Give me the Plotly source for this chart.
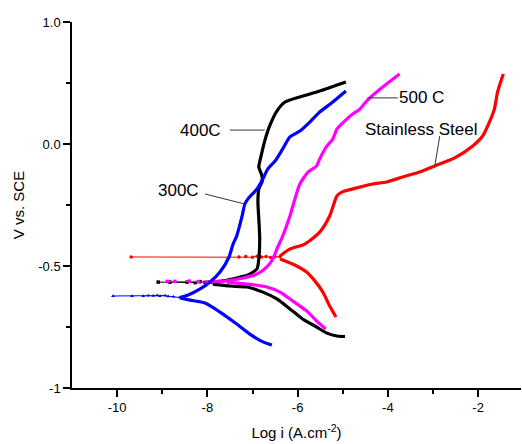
import plotly.graph_objects as go

# Potentiodynamic polarization curves: log current density vs potential (V vs. SCE)

# Stainless steel
ss_cath_x = [-6.39, -6.11, -5.80, -5.62, -5.44, -5.29, -5.15]
ss_cath_y = [-0.471, -0.492, -0.525, -0.561, -0.607, -0.664, -0.709]
ss_ecorr_x = [-9.69, -7.30, -7.15, -7.00, -6.90, -6.80, -6.70, -6.60, -6.50, -6.39]
ss_ecorr_y = [-0.463, -0.463, -0.461, -0.464, -0.460, -0.463, -0.461, -0.465, -0.462, -0.462]
ss_anod_x = [-6.39, -6.17, -5.84, -5.51, -5.29, -5.13, -5.02, -4.69, -4.34, -4.03, -3.67,
             -3.30, -2.96, -2.52, -2.12, -1.90, -1.75, -1.64, -1.57, -1.48, -1.44]
ss_anod_y = [-0.459, -0.430, -0.410, -0.361, -0.295, -0.213, -0.197, -0.180, -0.164, -0.156, -0.135,
             -0.115, -0.090, -0.057, -0.008, 0.033, 0.090, 0.143, 0.213, 0.266, 0.287]

# 400C
c400_cath_x = [-7.88, -7.50, -7.12, -6.77, -6.46, -6.17, -5.89, -5.58, -5.35, -5.13, -4.95]
c400_cath_y = [-0.574, -0.582, -0.586, -0.607, -0.635, -0.676, -0.717, -0.750, -0.775, -0.787, -0.789]
c400_ecorr_x = [-9.09, -8.83, -8.45, -8.27, -8.16, -8.05, -7.94, -7.88]
c400_ecorr_y = [-0.566, -0.566, -0.566, -0.568, -0.564, -0.567, -0.565, -0.566]
c400_anod_x = [-7.88, -7.65, -7.35, -7.10, -6.90, -6.86, -6.84, -6.86, -6.88, -6.86, -6.79,
               -6.79, -6.86, -6.81, -6.73, -6.62, -6.46, -6.28, -5.95, -5.51, -4.93]
c400_anod_y = [-0.566, -0.561, -0.549, -0.537, -0.512, -0.471, -0.389, -0.307, -0.238, -0.184, -0.156,
               -0.131, -0.094, -0.049, 0.012, 0.074, 0.135, 0.172, 0.193, 0.217, 0.254]

# 500 C
c500_cath_x = [-7.57, -7.12, -6.68, -6.39, -6.11, -5.80, -5.58, -5.38]
c500_cath_y = [-0.566, -0.574, -0.586, -0.607, -0.643, -0.684, -0.725, -0.758]
c500_ecorr_x = [-8.89, -8.72, -8.40, -8.20, -8.01]
c500_ecorr_y = [-0.563, -0.563, -0.562, -0.564, -0.566]
c500_anod_x = [-8.01, -7.57, -7.21, -6.90, -6.68, -6.55, -6.44, -6.33, -6.17, -6.06, -5.95, -5.77,
               -5.58, -5.51, -5.35, -5.22, -5.13, -4.91, -4.78, -4.62, -4.47, -4.25, -4.03, -3.74]
c500_anod_y = [-0.566, -0.561, -0.549, -0.533, -0.504, -0.471, -0.422, -0.377, -0.295, -0.225, -0.164, -0.115,
               -0.090, -0.061, -0.008, 0.020, 0.061, 0.102, 0.123, 0.143, 0.176, 0.213, 0.246, 0.287]

# 300C
c300_cath_x = [-8.61, -8.38, -8.05, -7.72, -7.35, -7.06, -6.77, -6.57]
c300_cath_y = [-0.631, -0.640, -0.652, -0.689, -0.738, -0.779, -0.811, -0.824]
c300_ecorr_x = [-10.09, -9.67, -9.42, -9.31, -9.20, -9.11, -9.05, -8.94, -8.87, -8.75, -8.61]
c300_ecorr_y = [-0.623, -0.623, -0.623, -0.621, -0.622, -0.620, -0.623, -0.621, -0.624, -0.626, -0.629]
c300_anod_x = [-8.61, -8.45, -8.16, -7.94, -7.72, -7.52, -7.43, -7.35, -7.23, -7.17, -7.10, -6.90,
               -6.77, -6.66, -6.50, -6.33, -6.17, -5.95, -5.73, -5.51, -5.22, -4.93]
c300_anod_y = [-0.629, -0.621, -0.594, -0.566, -0.525, -0.463, -0.410, -0.377, -0.295, -0.246, -0.225, -0.184,
               -0.143, -0.102, -0.070, -0.020, 0.029, 0.053, 0.090, 0.131, 0.172, 0.217]

x_tick_vals = [-10, -8, -6, -4, -2]
x_tick_text = ["-10", "-8", "-6", "-4", "-2"]
y_tick_vals = [-1, -0.5, 0, 0.5]
y_tick_text = ["-1", "-0.5", "0.0", "1.0"]

series = [
    ("#ff0000", "circle", ss_cath_x, ss_cath_y, ss_ecorr_x, ss_ecorr_y, ss_anod_x, ss_anod_y),
    ("#000000", "square", c400_cath_x, c400_cath_y, c400_ecorr_x, c400_ecorr_y, c400_anod_x, c400_anod_y),
    ("#ff00ff", "square", c500_cath_x, c500_cath_y, c500_ecorr_x, c500_ecorr_y, c500_anod_x, c500_anod_y),
    ("#0000ff", "triangle-up", c300_cath_x, c300_cath_y, c300_ecorr_x, c300_ecorr_y, c300_anod_x, c300_anod_y),
]

fig = go.Figure()
for color, sym, cx, cy, ex, ey, ax_, ay in series:
    fig.add_trace(go.Scatter(x=ex, y=ey, mode="lines+markers",
                             line=dict(color=color, width=1),
                             marker=dict(color=color, size=3.5, symbol=sym),
                             showlegend=False, hoverinfo="skip"))
    fig.add_trace(go.Scatter(x=cx, y=cy, mode="lines",
                             line=dict(color=color, width=3.2, shape="spline", smoothing=0.6),
                             showlegend=False))
    fig.add_trace(go.Scatter(x=ax_, y=ay, mode="lines",
                             line=dict(color=color, width=3.2, shape="spline", smoothing=0.6),
                             showlegend=False))

label_font = dict(family="Liberation Sans, Arial, sans-serif", size=17, color="#000000")
labels = [
    ("400C", -8.16, 0.057),
    ("300C", -8.65, -0.189),
    ("500 C", -3.25, 0.189),
    ("Stainless Steel", -3.27, 0.061),
]
for text, lx, ly in labels:
    fig.add_annotation(x=lx, y=ly, text=text, showarrow=False, font=label_font,
                       xanchor="center", yanchor="middle")

leaders = [
    (-7.50, 0.057, -6.73, 0.057),
    (-8.05, -0.205, -7.17, -0.246),
    (-4.45, 0.189, -3.78, 0.189),
    (-2.85, 0.033, -2.96, -0.090),
]
for x0, y0, x1, y1 in leaders:
    fig.add_shape(type="line", x0=x0, y0=y0, x1=x1, y1=y1,
                  line=dict(color="#333333", width=1))

tick_font = dict(family="Liberation Sans, Arial, sans-serif", size=13, color="#000000")
fig.update_layout(
    width=522, height=444,
    margin=dict(l=72, r=1, t=22, b=56),
    paper_bgcolor="white", plot_bgcolor="white",
    xaxis=dict(range=[-11, -1.05], tickmode="array", tickvals=x_tick_vals, ticktext=x_tick_text,
               showline=True, linecolor="black", linewidth=1.5, ticks="outside", ticklen=7,
               tickwidth=1.5, tickcolor="black", showgrid=False, zeroline=False,
               tickfont=tick_font,
               minor=dict(tickvals=[-9, -7, -5, -3], ticks="outside", ticklen=4,
                          tickwidth=1.5, tickcolor="black", showgrid=False),
               title=dict(text="Log i (A.cm<sup>-2</sup>)", standoff=13,
                          font=dict(family="Liberation Sans, Arial, sans-serif", size=15, color="#000000"))),
    yaxis=dict(range=[-1, 0.5], tickmode="array", tickvals=y_tick_vals, ticktext=y_tick_text,
               showline=True, linecolor="black", linewidth=1.5, ticks="outside", ticklen=7,
               tickwidth=1.5, tickcolor="black", showgrid=False, zeroline=False,
               tickfont=tick_font,
               minor=dict(tickvals=[-0.75, -0.25, 0.25], ticks="outside", ticklen=4,
                          tickwidth=1.5, tickcolor="black", showgrid=False),
               title=dict(text="V vs. SCE", standoff=10,
                          font=dict(family="Liberation Sans, Arial, sans-serif", size=15, color="#000000"))),
)

fig.write_html("out.html")
